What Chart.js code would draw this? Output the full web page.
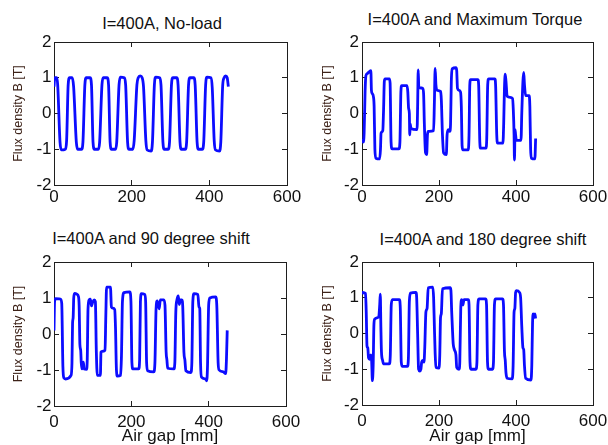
<!DOCTYPE html>
<html>
<head>
<meta charset="utf-8">
<title>Flux density in the air gap</title>
<script src="https://cdn.jsdelivr.net/npm/chart.js@4.4.0/dist/chart.umd.min.js"></script>
<style>
  html, body { margin: 0; padding: 0; background: #fff; }
  #fig { position: relative; width: 608px; height: 445px; overflow: hidden;
         font-family: 'Liberation Sans', Arial, Helvetica, sans-serif; }
  .panel { position: absolute; }
  .ttl { position: absolute; font-size: 16.5px; line-height: 1; white-space: nowrap;
         transform: translateX(-50%); color: #111; }
</style>
</head>
<body>
<div id="fig">
  <div class="ttl" style="left:162px; top:15px">I=400A, No-load</div>
  <div class="ttl" style="left:475px; top:11px">I=400A and Maximum Torque</div>
  <div class="ttl" style="left:151px; top:230px">I=400A and 90 degree shift</div>
  <div class="ttl" style="left:483px; top:231px">I=400A and 180 degree shift</div>

  <canvas id="chart-noload" class="panel" width="304" height="220" style="left:0; top:0"></canvas>
  <canvas id="chart-maxtorque" class="panel" width="304" height="220" style="left:304px; top:0"></canvas>
  <canvas id="chart-shift90" class="panel" width="304" height="225" style="left:0; top:220px"></canvas>
  <canvas id="chart-shift180" class="panel" width="304" height="225" style="left:304px; top:220px"></canvas>
</div>

<script>
/*
|--------------------------------------------------------------------------
| Data: air gap position [mm] and flux density B [T] for each load case
|--------------------------------------------------------------------------
*/
const xTickValues = [0, 200, 400, 600];
const yTickValues = [-2, -1, 0, 1, 2];

// I=400A, no-load
const noLoadX = [
  0, 2, 7, 9.5,
  15.5, 19, 29, 32.5,
  36.5, 40, 47, 50.5,
  57.5, 61, 71, 74.5,
  79.5, 83, 93, 96.5,
  100.5, 104, 114, 117.5,
  123.5, 127, 137, 140.5,
  144.5, 148, 158, 161.5,
  167.5, 171, 181, 184.5,
  189.5, 193, 203, 206.5,
  213.5, 217, 222, 227, 230.5,
  236.5, 240, 250, 253.5,
  258.5, 262, 272, 275.5,
  280.5, 284, 294, 297.5,
  302.5, 306, 316, 319.5,
  324.5, 328, 338, 341.5,
  346.5, 350, 360, 363.5,
  368.5, 372, 382, 385.5,
  390.5, 394, 404, 407.5,
  412.5, 416, 426, 429.5,
  434.5, 438, 442, 446, 449
];
const noLoadB = [
  0.75, 1.0, 1.0, 0.8,
  -0.8, -1.02, -1.0, -0.75,
  0.8, 1.0, 1.0, 0.75,
  -0.8, -1.0, -1.0, -0.8,
  0.8, 1.0, 1.0, 0.8,
  -0.8, -1.0, -1.0, -0.8,
  0.8, 1.0, 1.0, 0.8,
  -0.8, -1.0, -1.0, -0.8,
  0.8, 1.02, 1.0, 0.8,
  -0.8, -1.0, -1.0, -0.75,
  0.8, 1.0, 1.05, 1.0, 0.75,
  -0.75, -1.02, -1.05, -0.8,
  0.8, 1.02, 1.0, 0.8,
  -0.8, -1.0, -1.0, -0.8,
  0.8, 1.0, 1.0, 0.8,
  -0.8, -1.0, -1.0, -0.8,
  0.8, 1.0, 1.0, 0.8,
  -0.8, -1.0, -1.0, -0.8,
  0.8, 1.02, 1.0, 0.72,
  -0.75, -1.02, -1.05, -0.8,
  0.8, 1.0, 1.05, 1.0, 0.75
];

// I=400A and maximum torque
const maxTorqueX = [
  0, 3, 5.5, 8, 10, 14, 20, 23,
  24.5, 27, 29.5, 31.5, 33.5, 36, 46, 48,
  49.5, 54, 56, 58, 60, 71, 73, 75.5,
  78, 96, 98.5, 101, 103, 117, 119, 121,
  123, 124, 125.5, 127, 143, 144.5, 146, 147.5,
  150, 158, 160, 162, 165, 168, 170, 172,
  186, 188, 190, 192, 195, 204, 206, 209,
  212, 219, 221, 224, 228, 230, 232, 234,
  244, 246, 248, 252, 256, 258, 260, 262,
  276, 278, 280, 282, 301, 303, 306, 308,
  322, 324, 326.5, 329, 345, 347, 350, 352,
  366, 368, 370, 372, 374, 377, 385, 391,
  393, 395, 396, 397.5, 399, 401, 413, 415,
  418, 420, 422, 425, 434, 436, 438, 440,
  449, 451
];
const maxTorqueB = [
  -0.71, -0.8, -0.55, 0.6, 1.05, 1.12, 1.18, 1.2,
  0.65, 0.55, 0.48, 0.2, -1.0, -1.25, -1.27, -1.0,
  -0.55, -0.48, 0.1, 0.9, 0.97, 0.97, 0.85, -0.8,
  -0.99, -0.99, -0.8, 0.6, 0.78, 0.78, 0.6, 0.15,
  0.0, -0.6, -0.3, -0.42, -0.45, 0.2, 1.22, 0.75,
  0.72, 0.7, 0.55, -0.3, -1.1, -1.15, -0.6, -0.5,
  -0.48, 0.3, 1.26, 0.8, 0.65, 0.62, 0.4, -0.6,
  -1.1, -1.15, -0.6, -0.45, -0.5, -0.3, 0.9, 1.25,
  1.28, 1.2, 0.7, 0.65, 0.6, 0.2, -0.9, -1.02,
  -1.02, -0.6, 0.8, 0.95, 0.95, 0.8, -0.8, -0.97,
  -0.97, -0.7, 0.8, 0.97, 0.97, 0.8, -0.6, -0.83,
  -0.83, -0.3, 0.7, 1.1, 0.9, 0.48, 0.45, 0.42,
  0.1, -0.6, -1.3, -0.45, -0.6, -0.75, -0.75, 0.0,
  0.9, 1.15, 0.8, 0.5, 0.5, 0.2, -1.0, -1.25,
  -1.27, -0.7
];

// I=400A and 90 degree shift
const shift90X = [
  0, 1.5, 4, 17, 20, 23, 25.5, 30,
  44, 46.5, 48, 49.5, 51, 53, 60, 63,
  65, 67, 69, 70.5, 72.5, 76, 78, 84,
  86, 88, 91, 94, 97, 100, 104, 107,
  109.5, 112, 120, 121.5, 124, 132, 134, 136,
  146, 148.5, 152, 157, 159, 161.5, 164, 172,
  174.5, 177, 181, 196, 199, 201.5, 204, 219,
  221.5, 223.5, 226, 235, 237, 239.5, 242, 258,
  261, 264, 267, 272, 275, 284, 287, 290,
  292, 294, 310, 312.5, 315, 318, 321.5, 324,
  327, 331, 333, 336, 338.5, 341, 354, 356.5,
  359, 362, 372, 375, 377, 379, 381.5, 392,
  395, 397, 400, 403, 418, 421, 424.5, 427,
  438, 444, 446, 448
];
const shift90B = [
  0.1, 0.9, 0.98, 0.97, 0.85, -0.9, -1.22, -1.25,
  -1.15, -0.8, 0.3, 0.45, 1.0, 1.13, 1.1, 1.05,
  0.8, -0.3, -0.45, -0.8, -0.97, -0.78, -0.97, -0.98,
  -0.7, 0.7, 0.95, 0.97, 0.78, 0.88, 0.95, 0.9,
  -0.5, -1.15, -1.15, -0.5, -0.48, -0.45, 0.5, 1.3,
  1.3, 0.75, 0.72, 0.68, 0.2, -1.0, -1.17, -1.15,
  -0.6, 0.9, 1.15, 1.17, 0.9, -0.8, -0.97, -0.97,
  -0.7, 0.9, 1.12, 1.1, 0.9, -0.8, -1.02, -1.05,
  -0.8, 0.7, 0.92, 0.7, 0.95, 0.95, 0.8, -0.5,
  -0.72, -0.95, -0.97, -0.8, 0.6, 0.95, 1.06, 0.82,
  0.95, 0.95, 0.75, -0.5, -0.72, -1.02, -1.07, -0.8,
  0.9, 1.12, 1.1, 0.75, 0.7, -0.8, -1.2, -1.25,
  -1.3, -0.9, 0.8, 1.0, 1.03, 0.8, -0.8, -1.0,
  -1.05, -1.1, -0.7, 0.1
];

// I=400A and 180 degree shift
const shift180X = [
  0, 2, 9, 11, 13, 15, 17, 20,
  23, 25, 27, 29, 31, 33, 42, 44,
  46, 47.5, 49, 50.5, 53.5, 56, 71, 73.5,
  76, 79, 97, 99.5, 102, 105, 118, 120.5,
  123, 126, 140, 142, 144.5, 147, 150, 153,
  155, 158, 161, 163, 166, 169, 172, 184,
  186, 188, 190, 192, 200, 202, 204, 206,
  209, 229, 231, 233, 235, 237, 240, 244,
  246, 252, 254, 256.5, 259, 262, 265, 276,
  278, 280.5, 283, 296, 298.5, 301, 304, 321,
  323.5, 326, 328.5, 339, 341.5, 344, 347, 365,
  367.5, 370, 372, 374, 377, 390, 392.5, 395,
  397, 399, 401, 409, 412, 415, 418, 420,
  422, 425, 439, 441, 443, 445, 447, 449,
  451
];
const shift180B = [
  1.1, 1.15, 1.12, 0.6, -0.35, -0.4, -0.68, -0.72,
  -0.6, -0.75, -1.32, -0.9, 0.25, 0.4, 0.45, 0.5,
  0.8, 1.1, 0.2, -0.5, -0.75, -0.85, -0.85, -0.6,
  0.8, 0.95, 0.95, 0.7, -0.8, -0.92, -0.92, -0.7,
  0.9, 1.13, 1.15, 1.0, 0.0, -1.0, -1.05, -1.0,
  -0.8, -0.75, -0.8, -0.4, 0.6, 0.7, 1.28, 1.3,
  1.0, 0.2, -0.55, -0.95, -0.97, -0.6, 0.45, 0.55,
  1.25, 1.28, 1.2, 0.6, 0.1, -0.3, -0.45, -0.6,
  -0.95, -1.0, -0.8, 0.7, 0.95, 0.8, 0.95, 0.95,
  0.8, -0.8, -1.0, -1.0, -0.8, 0.8, 0.97, 0.97,
  0.8, -0.8, -1.0, -1.0, -0.8, 0.8, 0.97, 0.97,
  0.8, -0.5, -0.74, -1.1, -1.25, -1.27, -0.9, 0.6,
  0.7, 1.15, 1.2, 1.15, 1.0, 0.2, -0.4, -0.45,
  -0.9, -1.25, -1.3, -0.9, 0.3, 0.55, 0.45, 0.55,
  0.42
];

/*
|--------------------------------------------------------------------------
| Panel builder: MATLAB-like boxed axes with inward ticks
|--------------------------------------------------------------------------
*/
const FONT = "'Liberation Sans', Arial, Helvetica, sans-serif";
const AXIS_COLOR = '#1e1e1e';
const LINE_COLOR = '#0c0cff';

Chart.defaults.font.family = FONT;

// Forces the tick positions from the arrays above
function setTicks(values) {
  return (scale) => {
    scale.ticks = values.map(v => ({ value: v }));
  };
}

function createFluxChart(canvasId, xs, ys, geo) {
  const canvas = document.getElementById(canvasId);
  if (!canvas) return null;

  const points = xs.map((x, i) => ({ x: x, y: ys[i] }));

  const tickMarks = {
    display: true,
    drawOnChartArea: false,
    drawTicks: true,
    tickLength: -5,
    color: AXIS_COLOR,
    lineWidth: 1
  };
  const frame = { display: true, color: AXIS_COLOR, width: 1 };
  const tickFont = { family: FONT, size: 17 };

  return new Chart(canvas, {
    type: 'scatter',
    data: {
      datasets: [{
        data: points,
        showLine: true,
        borderColor: LINE_COLOR,
        borderWidth: 2.8,
        pointRadius: 0,
        cubicInterpolationMode: 'monotone',
        fill: false
      }]
    },
    options: {
      responsive: false,
      animation: false,
      events: [],
      layout: { padding: { left: 0, top: 42, right: geo.padRight, bottom: 0 } },
      plugins: {
        legend: { display: false },
        tooltip: { enabled: false },
        title: { display: false }
      },
      scales: {
        x: {
          type: 'linear',
          position: 'bottom',
          min: 0,
          max: 600,
          afterBuildTicks: setTicks(xTickValues),
          afterFit: (s) => { s.height = geo.xAxisHeight; s.paddingLeft = 0; s.paddingRight = 0; },
          grid: tickMarks,
          border: frame,
          ticks: { color: '#111', font: tickFont, padding: geo.xTickPad, maxRotation: 0, autoSkip: false },
          title: {
            display: geo.showXTitle,
            text: 'Air gap [mm]',
            color: '#111',
            font: { family: FONT, size: 17, lineHeight: 1 },
            padding: { top: 0, bottom: 0 }
          }
        },
        y: {
          type: 'linear',
          position: 'left',
          min: -2,
          max: 2,
          afterBuildTicks: setTicks(yTickValues),
          afterFit: (s) => { s.width = geo.yAxisWidth; s.paddingTop = 0; s.paddingBottom = 0; },
          grid: tickMarks,
          border: frame,
          ticks: { color: '#111', font: tickFont, padding: geo.yTickPad },
          title: {
            display: true,
            text: 'Flux density B [T]',
            color: '#3d2218',
            font: { family: FONT, size: 12.5 },
            padding: { top: geo.yTitlePad, bottom: 0 }
          }
        },
        xTop: {
          type: 'linear',
          position: 'top',
          min: 0,
          max: 600,
          afterBuildTicks: setTicks(xTickValues),
          afterFit: (s) => { s.height = 0; s.paddingLeft = 0; s.paddingRight = 0; },
          grid: tickMarks,
          border: frame,
          ticks: { display: false }
        },
        yRight: {
          type: 'linear',
          position: 'right',
          min: -2,
          max: 2,
          afterBuildTicks: setTicks(yTickValues),
          afterFit: (s) => { s.width = 0; s.paddingTop = 0; s.paddingBottom = 0; },
          grid: tickMarks,
          border: frame,
          ticks: { display: false }
        }
      }
    }
  });
}

/*
|--------------------------------------------------------------------------
| The four load cases
|--------------------------------------------------------------------------
*/
createFluxChart('chart-noload', noLoadX, noLoadB, {
  padRight: 17, xAxisHeight: 35, yAxisWidth: 54, xTickPad: 7, yTickPad: 7.5, yTitlePad: 11, showXTitle: false
});
createFluxChart('chart-maxtorque', maxTorqueX, maxTorqueB, {
  padRight: 15, xAxisHeight: 35, yAxisWidth: 58, xTickPad: 7, yTickPad: 8, yTitlePad: 16, showXTitle: false
});
createFluxChart('chart-shift90', shift90X, shift90B, {
  padRight: 18, xAxisHeight: 39, yAxisWidth: 54, xTickPad: 11, yTickPad: 7.5, yTitlePad: 11, showXTitle: true
});
createFluxChart('chart-shift180', shift180X, shift180B, {
  padRight: 15, xAxisHeight: 40, yAxisWidth: 58, xTickPad: 11, yTickPad: 8, yTitlePad: 16, showXTitle: true
});
</script>
</body>
</html>
